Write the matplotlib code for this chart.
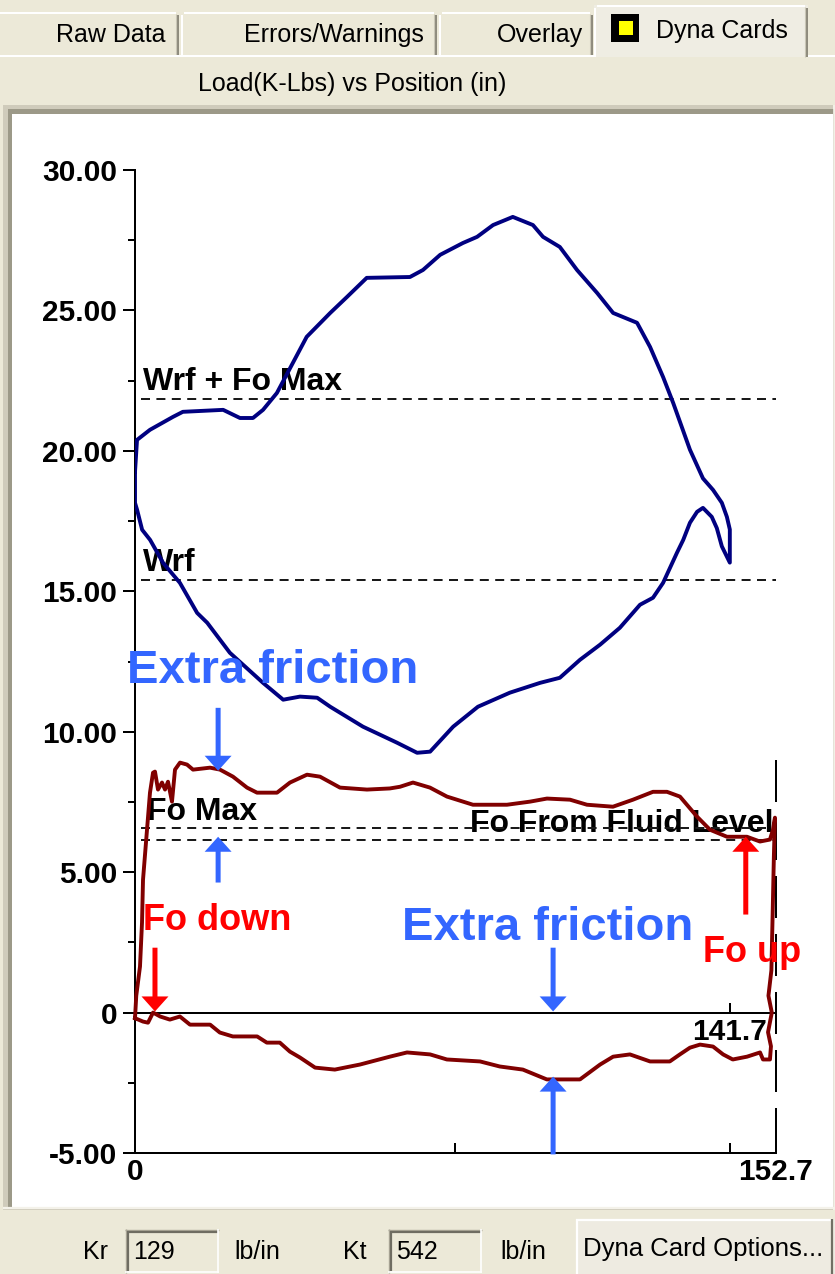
import numpy as np
import matplotlib
matplotlib.use("Agg")
import matplotlib.pyplot as plt
from matplotlib.patches import Rectangle

plt.rcParams["font.family"] = ["Liberation Sans", "DejaVu Sans"]

# ---------------- data ----------------
# Surface card: upstroke (left to right) then downstroke (right to left)
surf_pos_up = [0.0, 0.48, 3.57, 9.05, 11.4, 21.0, 25.0, 28.1, 30.5, 33.8, 37.6, 40.9,
               46.5, 50.5, 55.2, 65.5, 68.6, 72.7, 78.1, 81.5, 85.3, 90.0, 94.8, 97.2,
               101.2, 105.3, 110.1, 113.9, 119.6, 122.7, 125.8, 128.2, 132.2, 135.3,
               137.7, 139.8, 141.0, 141.7, 141.7]
surf_load_up = [19.25, 20.39, 20.75, 21.21, 21.39, 21.46, 21.17, 21.17, 21.46, 22.06, 23.13, 24.06,
                24.91, 25.48, 26.16, 26.19, 26.44, 26.98, 27.40, 27.62, 28.04, 28.33, 28.04, 27.62,
                27.26, 26.44, 25.62, 24.91, 24.56, 23.70, 22.63, 21.71, 20.04, 19.02,
                18.61, 18.15, 17.65, 17.20, 16.02]
surf_pos_dn = [139.8, 138.6, 137.4, 135.3, 133.9, 132.2, 130.6, 129.1, 125.8, 123.4, 120.3,
               115.5, 110.8, 106.0, 101.2, 96.5, 89.3, 81.7, 75.8, 70.3, 67.2, 62.4, 54.3,
               46.5, 43.4, 39.3, 35.3, 30.5, 22.6, 17.2, 14.8, 10.7, 6.7, 3.6, 1.7, 0.5, 0.0]
surf_load_dn = [16.60, 17.25, 17.65, 17.97, 17.83, 17.44, 16.83, 16.37, 15.30, 14.77, 14.52,
                13.70, 13.10, 12.56, 11.92, 11.74, 11.39, 10.89, 10.18, 9.29, 9.25, 9.61, 10.18,
                10.89, 11.21, 11.25, 11.14, 11.74, 12.81, 13.88, 14.23, 15.30, 16.01, 16.83,
                17.19, 17.90, 18.15]

# Pump card: upstroke along the top, right edge, then downstroke along the bottom
pump_pos_up = [0.0, 0.3, 1.19, 1.67, 1.91, 2.86, 3.57, 4.29, 4.76, 5.48, 6.43, 7.15, 7.86,
               8.81, 9.53, 10.72, 12.39, 13.82, 17.87, 20.25, 23.34, 26.68, 29.06, 33.83,
               36.92, 40.97, 44.07, 48.83, 55.26, 60.7, 63.13, 66.22, 70.27, 74.32, 80.51,
               88.61, 94.09, 98.14, 103.62, 107.67, 113.86, 118.63, 123.39, 126.73, 129.82,
               133.87, 136.97, 141.02, 145.78, 148.88, 151.26, 151.98, 152.45,
               152.2, 151.9, 151.6, 150.9, 151.7, 150.8, 151.5, 151.26]
pump_load_up = [-0.20, 0.60, 1.64, 3.20, 4.73, 6.51, 7.83, 8.54, 8.58, 7.94, 8.19, 7.94, 8.22,
                7.51, 8.65, 8.90, 8.83, 8.65, 8.72, 8.65, 8.40, 8.01, 7.83, 7.83,
                8.19, 8.47, 8.40, 8.01, 7.94, 7.98, 8.04, 8.19, 8.01, 7.69, 7.40,
                7.40, 7.51, 7.62, 7.58, 7.40, 7.33, 7.58, 7.86, 7.86, 7.69,
                6.98, 6.51, 6.26, 6.26, 6.09, 6.16, 6.51, 6.94,
                5.60, 3.50, 1.50, 0.60, 0.00, -0.70, -1.20, -1.67]
pump_pos_dn = [149.6, 148.9, 145.8, 142.4, 140.1, 137.7, 134.6, 132.2, 129.8, 127.4, 122.7,
               117.9, 113.9, 110.8, 106.0, 98.1, 92.4, 86.9, 82.2, 74.3, 70.3, 64.8, 60.7,
               53.6, 47.6, 42.9, 39.3, 36.9, 34.5, 31.4, 29.1, 23.3, 20.2, 17.9, 13.1, 10.7,
               8.3, 6.0, 4.3, 3.1, 1.9, 0.0]
pump_load_dn = [-1.67, -1.42, -1.57, -1.67, -1.49, -1.21, -1.14, -1.25, -1.49, -1.74, -1.74,
                -1.49, -1.57, -1.85, -2.38, -2.38, -2.03, -1.92, -1.74, -1.67, -1.49, -1.42, -1.57,
                -1.85, -2.03, -1.96, -1.60, -1.39, -1.07, -1.07, -0.85, -0.85, -0.71, -0.43, -0.43,
                -0.14, -0.25, -0.14, 0.00, -0.36, -0.32, -0.20]

ref_labels = ["Wrf + Fo Max", "Wrf", "Fo Max", "Fo From Fluid Level"]
ref_loads = [21.85, 15.40, 6.58, 6.16]

y_ticks = [30, 25, 20, 15, 10, 5, 0, -5]
y_tick_labels = ["30.00", "25.00", "20.00", "15.00", "10.00", "5.00", "0", "-5.00"]
max_stroke = 152.7
pump_stroke = 141.7

tab_names = ["Raw Data", "Errors/Warnings", "Overlay", "Dyna Cards"]
chart_title = "Load(K-Lbs) vs Position (in)"
kr_value, kt_value = "129", "542"

# ---------------- styles ----------------
BG = "#ECE9D8"
DARK_EDGE = "#8E8B7D"
NAVY = "#000080"
MAROON = "#800000"
NOTE_BLUE = "#3366FF"
NOTE_RED = "#FF0000"

W, H = 835, 1274
fig = plt.figure(figsize=(W / 100, H / 100), dpi=100)
fig.patch.set_facecolor(BG)

# window chrome drawn in pixel coordinates
gui = fig.add_axes([0, 0, 1, 1])
gui.set_xlim(0, W)
gui.set_ylim(H, 0)
gui.axis("off")


def hline(x0, x1, y, color, lw=1.44, z=2):
    gui.plot([x0, x1], [y, y], color=color, lw=lw, solid_capstyle="butt", zorder=z)


def vline(x, y0, y1, color, lw=1.44, z=2):
    gui.plot([x, x], [y0, y1], color=color, lw=lw, solid_capstyle="butt", zorder=z)


def tab(x0, x1, y0, y1, face):
    gui.add_patch(Rectangle((x0, y0), x1 - x0, y1 - y0, facecolor=face, edgecolor="none", zorder=1))
    hline(x0 + 3, x1 - 3, y0 + 1, "white")
    vline(x0 + 1, y0 + 3, y1, "white")
    vline(x1 - 1, y0 + 3, y1, DARK_EDGE)
    vline(x1 - 3, y0 + 2, y1, "#C9C6B6", lw=0.8)


# tab strip
tab_edges = [(-10, 179), (181, 437), (439, 593)]
tab_text_right = [165, 424, 583]
for (a, b), name, xr in zip(tab_edges, tab_names[:3], tab_text_right):
    tab(a, b, 12, 55, BG)
    gui.text(xr, 35, name, ha="right", va="center", fontsize=18, color="black", zorder=3)
hline(0, 594, 56, "white")
hline(807, W, 56, "white")
tab(594, 808, 5, 57, "#EFEDE3")
gui.add_patch(Rectangle((611, 14), 28, 28, facecolor="black", edgecolor="none", zorder=3))
gui.add_patch(Rectangle((619, 21), 14, 14, facecolor="#FFFF00", edgecolor="none", zorder=4))
gui.text(788, 31, tab_names[3], ha="right", va="center", fontsize=18, color="black", zorder=3)

# chart caption
gui.text(352, 84, chart_title, ha="center", va="center", fontsize=18, color="black")

# sunken white panel
gui.add_patch(Rectangle((3, 105), 830, 1105, facecolor="#CFCBBB", edgecolor="none", zorder=1))
gui.add_patch(Rectangle((8, 109), 826, 1099, facecolor="#9C9988", edgecolor="none", zorder=1))
gui.add_patch(Rectangle((12, 114), 821, 1093, facecolor="white", edgecolor="none", zorder=1))
vline(833.5, 105, 1210, "#F4F2EA", lw=1.2)
hline(3, 835, 1208, "#F4F2EA", lw=1.6)


def sunken_box(x0, x1, y0, y1, text):
    gui.add_patch(Rectangle((x0, y0), x1 - x0, y1 - y0, facecolor=BG, edgecolor="none", zorder=1))
    hline(x0, x1, y0 + 1, "#ACA899", lw=1.0)
    hline(x0 + 1, x1 - 1, y0 + 3, "#6F6D62", lw=1.6)
    vline(x0 + 1, y0, y1, "#ACA899", lw=1.0)
    vline(x0 + 3, y0 + 2, y1 - 2, "#6F6D62", lw=1.6)
    hline(x0, x1, y1 - 1, "white", lw=1.2)
    vline(x1 - 1, y0, y1, "white", lw=1.2)
    gui.text(x0 + 8, (y0 + y1) / 2 + 1, text, ha="left", va="center", fontsize=18, color="black", zorder=3)


gui.text(83, 1252, "Kr", ha="left", va="center", fontsize=18)
sunken_box(125, 219, 1229, 1273, kr_value)
gui.text(234, 1252, "lb/in", ha="left", va="center", fontsize=18)
gui.text(343, 1252, "Kt", ha="left", va="center", fontsize=18)
sunken_box(388, 482, 1229, 1273, kt_value)
gui.text(500, 1252, "lb/in", ha="left", va="center", fontsize=18)

# options button
gui.add_patch(Rectangle((576, 1219), 259, 60, facecolor="#EEEBE1", edgecolor="none", zorder=1))
hline(576, 832, 1220, "white", lw=1.6)
vline(577, 1219, H, "white", lw=1.6)
vline(832, 1219, H, "#716F64", lw=1.6)
gui.text(703, 1249, "Dyna Card Options...", ha="center", va="center", fontsize=18.5, zorder=3)

# ---------------- chart ----------------
ylo, yhi = -5, 30
ax = fig.add_axes([135 / W, 1 - 1153 / H, 641 / W, 983 / H])
ax.set_xlim(0, max_stroke)
ax.set_ylim(ylo, yhi)
ax.patch.set_alpha(0)
for s in ("top", "right"):
    ax.spines[s].set_visible(False)
for s in ("left", "bottom"):
    ax.spines[s].set_linewidth(1.44)
    ax.spines[s].set_color("black")

ax.set_yticks(y_ticks)
ax.set_yticklabels(y_tick_labels)
ax.set_yticks([t + 2.5 for t in y_ticks[1:]], minor=True)
ax.tick_params(axis="y", which="major", direction="out", length=8.6, width=1.44,
               pad=4.3, labelsize=21.5)
ax.tick_params(axis="y", which="minor", direction="out", length=5.0, width=1.44)

ax.set_xticks([0, max_stroke])
ax.set_xticklabels(["0", f"{max_stroke:.1f}"])
ax.set_xticks([max_stroke / 2, pump_stroke], minor=True)
ax.tick_params(axis="x", which="both", direction="in", length=7.2, width=1.44,
               pad=3.6, labelsize=21.5)
for lab in ax.get_xticklabels() + ax.get_yticklabels():
    lab.set_fontweight("bold")

# zero-load baseline carrying the pump stroke tick
zero_axis = ax.secondary_xaxis((0 - ylo) / (yhi - ylo))
zero_axis.set_xticks([pump_stroke])
zero_axis.set_xticklabels([f"{pump_stroke:.1f}"])
zero_axis.tick_params(direction="in", length=7.2, width=1.44, pad=3.6, labelsize=21.5)
zero_axis.spines["bottom"].set_linewidth(1.44)
for lab in zero_axis.get_xticklabels():
    lab.set_fontweight("bold")

# end-of-stroke marker
ax.plot([max_stroke, max_stroke], [9.0, ylo], color="black", lw=1.44,
        dashes=(21, 8), clip_on=False, zorder=2)

# reference load lines and their captions
for name, val in zip(ref_labels, ref_loads):
    ax.plot([1.5, max_stroke], [val, val], color="#1A1A1A", lw=1.44,
            dashes=(4.5, 3.2), zorder=2)
caption_pos = {
    "Wrf + Fo Max": (1.9, 22.17, "left"),
    "Wrf": (1.9, 15.73, "left"),
    "Fo Max": (2.8, 6.87, "left"),
    "Fo From Fluid Level": (152.0, 6.44, "right"),
}
for name in ref_labels:
    x, y, ha = caption_pos[name]
    ax.text(x, y, name, ha=ha, va="baseline", fontsize=23, fontweight="bold",
            color="black", zorder=1.5)

# cards
sx = np.r_[surf_pos_up, surf_pos_dn, surf_pos_up[:1]]
sy = np.r_[surf_load_up, surf_load_dn, surf_load_up[:1]]
ax.plot(sx, sy, color=NAVY, lw=2.8, solid_joinstyle="round", zorder=3)
px = np.r_[pump_pos_up, pump_pos_dn]
py = np.r_[pump_load_up, pump_load_dn]
ax.plot(px, py, color=MAROON, lw=2.8, solid_joinstyle="round", zorder=3, clip_on=False)

# notes
ARROW = "simple,head_length=10.8,head_width=19.4,tail_width=3.6"


def note_arrow(x, y_tail, y_tip, color):
    ax.annotate("", xy=(x, y_tip), xytext=(x, y_tail),
                arrowprops=dict(arrowstyle=ARROW, mutation_scale=1, color=color, lw=0,
                                shrinkA=0, shrinkB=0),
                annotation_clip=False, zorder=5)


note_arrow(19.8, 10.85, 8.61, NOTE_BLUE)
note_arrow(19.8, 4.63, 6.26, NOTE_BLUE)
note_arrow(99.6, 2.31, 0.04, NOTE_BLUE)
note_arrow(99.6, -5.05, -2.28, NOTE_BLUE)
note_arrow(4.76, 2.31, 0.04, NOTE_RED)
note_arrow(145.5, 3.49, 6.26, NOTE_RED)

ax.text(-1.9, 11.74, "Extra friction", ha="left", va="baseline", fontsize=34,
        fontweight="bold", color=NOTE_BLUE, zorder=5)
ax.text(63.6, 2.60, "Extra friction", ha="left", va="baseline", fontsize=34,
        fontweight="bold", color=NOTE_BLUE, zorder=5)
ax.text(1.9, 2.95, "Fo down", ha="left", va="baseline", fontsize=26,
        fontweight="bold", color=NOTE_RED, zorder=5)
ax.text(135.3, 1.81, "Fo up", ha="left", va="baseline", fontsize=26,
        fontweight="bold", color=NOTE_RED, zorder=5)

fig.savefig("out.png", dpi=100, facecolor=BG)
